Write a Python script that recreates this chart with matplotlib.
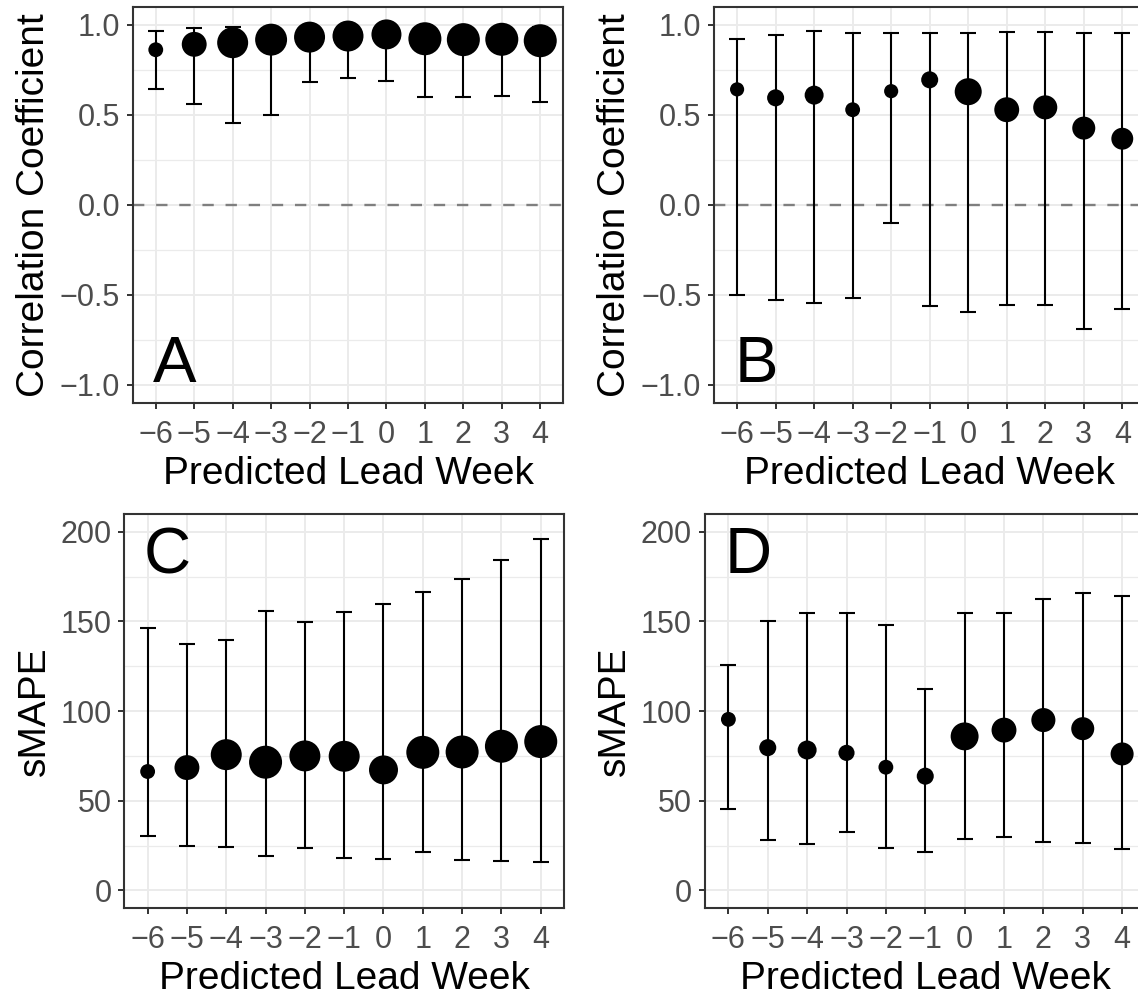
import matplotlib
matplotlib.use("Agg")
import matplotlib.pyplot as plt
from matplotlib.ticker import MultipleLocator

plt.rcParams['font.family'] = ['Liberation Sans', 'DejaVu Sans']

weeks = [-6, -5, -4, -3, -2, -1, 0, 1, 2, 3, 4]
week_labels = ['\u22126', '\u22125', '\u22124', '\u22123', '\u22122', '\u22121', '0', '1', '2', '3', '4']

# A: correlation, first set
corr_A = [0.861, 0.891, 0.900, 0.917, 0.931, 0.937, 0.946, 0.922, 0.917, 0.919, 0.911]
corr_A_lo = [0.644, 0.559, 0.456, 0.500, 0.681, 0.702, 0.689, 0.596, 0.596, 0.606, 0.572]
corr_A_hi = [0.967, 0.980, 0.987, 0.985, 0.985, 0.985, 0.985, 0.985, 0.985, 0.985, 0.985]
n_A = [22, 62, 96, 102, 96, 96, 90, 109, 109, 109, 109]

# B: correlation, second set
corr_B = [0.641, 0.594, 0.609, 0.528, 0.631, 0.694, 0.628, 0.528, 0.541, 0.426, 0.367]
corr_B_lo = [-0.502, -0.528, -0.544, -0.517, -0.102, -0.561, -0.594, -0.557, -0.557, -0.687, -0.580]
corr_B_hi = [0.919, 0.943, 0.965, 0.952, 0.954, 0.954, 0.952, 0.957, 0.957, 0.956, 0.954]
n_B = [20, 29, 36, 22, 20, 29, 73, 62, 58, 53, 48]

# C: sMAPE, first set
smape_C = [66.3, 68.5, 75.7, 71.5, 75.0, 74.8, 67.2, 77.0, 77.2, 80.4, 83.0]
smape_C_lo = [30.4, 24.8, 24.4, 19.1, 23.5, 18.3, 17.6, 21.3, 16.9, 16.5, 15.9]
smape_C_hi = [146.1, 137.4, 139.4, 155.9, 149.8, 155.2, 159.8, 166.3, 173.7, 184.3, 195.9]
n_C = [22, 62, 96, 109, 96, 96, 84, 109, 109, 109, 109]

# D: sMAPE, second set
smape_D = [95.4, 79.6, 78.3, 76.7, 68.7, 63.7, 85.9, 89.4, 95.0, 90.2, 76.1]
smape_D_lo = [45.4, 28.3, 25.7, 32.6, 23.5, 21.5, 28.9, 29.8, 26.7, 26.3, 23.0]
smape_D_hi = [125.9, 150.2, 154.6, 154.6, 147.8, 112.6, 154.6, 154.6, 162.4, 165.7, 164.4]
n_D = [22, 29, 36, 26, 22, 29, 78, 62, 58, 53, 53]


def draw_panel(ax, est, lo, hi, n, ylim, step, letter, letter_y, ylabel, zero_line):
    ax.set_xlim(-6.6, 4.6)
    ax.set_ylim(*ylim)
    ax.set_xticks(weeks)
    ax.set_xticklabels(week_labels)
    ax.yaxis.set_major_locator(MultipleLocator(step))
    ax.yaxis.set_minor_locator(MultipleLocator(step / 2))
    ax.grid(which='major', color='#EBEBEB', lw=1.4, zorder=0)
    ax.grid(which='minor', axis='y', color='#EBEBEB', lw=0.9, zorder=0)
    ax.tick_params(which='minor', length=0)
    ax.tick_params(which='major', labelsize=22, labelcolor='#4D4D4D',
                   color='#333333', width=1.4, length=4.4)
    ax.tick_params(axis='x', pad=7.5)
    ax.tick_params(axis='y', pad=4.7)
    ax.set_axisbelow(True)
    for sp in ax.spines.values():
        sp.set_color('#333333')
        sp.set_linewidth(1.5)
    if zero_line:
        ax.axhline(0, color='#7F7F7F', lw=1.7, ls=(0, (4.8, 5)), zorder=1)
    lower = [e - l for e, l in zip(est, lo)]
    upper = [h - e for e, h in zip(est, hi)]
    ax.errorbar(weeks, est, yerr=[lower, upper], fmt='none', ecolor='black',
                elinewidth=1.5, capsize=5.6, capthick=1.5, zorder=2)
    ax.scatter(weeks, est, s=[v * 5.184 for v in n], color='black',
               linewidths=0, zorder=3)
    ax.text(-5.5, letter_y, letter, fontsize=47, ha='center', va='baseline')
    ax.set_xlabel('Predicted Lead Week', fontsize=28, labelpad=4.5)
    ax.set_ylabel(ylabel, fontsize=28, labelpad=5.5)


fig = plt.figure(figsize=(11.38, 9.97), dpi=100)
ax_a = fig.add_axes([0.1166, 0.5958, 0.3784, 0.3975])
ax_b = fig.add_axes([0.6274, 0.5958, 0.3791, 0.3975])
ax_c = fig.add_axes([0.1090, 0.0890, 0.3869, 0.3955])
ax_d = fig.add_axes([0.6193, 0.0890, 0.3875, 0.3955])

draw_panel(ax_a, corr_A, corr_A_lo, corr_A_hi, n_A, (-1.1, 1.1), 0.5, 'A', -0.985,
           'Correlation Coefficient', True)
draw_panel(ax_b, corr_B, corr_B_lo, corr_B_hi, n_B, (-1.1, 1.1), 0.5, 'B', -0.985,
           'Correlation Coefficient', True)
draw_panel(ax_c, smape_C, smape_C_lo, smape_C_hi, n_C, (-10, 210), 50, 'C', 177,
           'sMAPE', False)
draw_panel(ax_d, smape_D, smape_D_lo, smape_D_hi, n_D, (-10, 210), 50, 'D', 177,
           'sMAPE', False)

fig.savefig('out.png', dpi=100)
